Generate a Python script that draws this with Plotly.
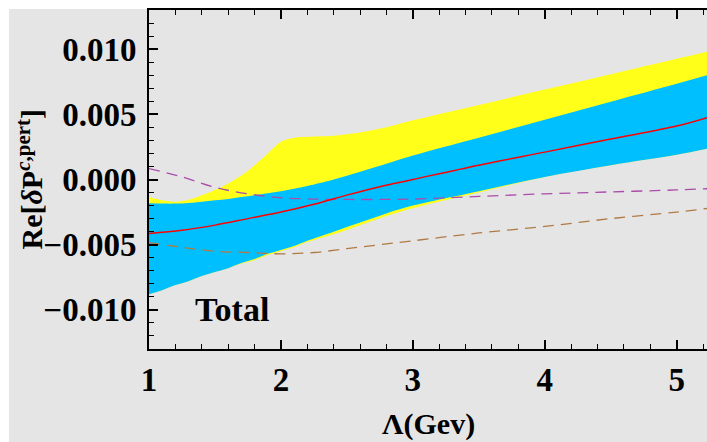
import plotly.graph_objects as go

# ---- data ----
x_band = [1.0, 1.1, 1.2, 1.3, 1.4, 1.5, 1.6, 1.7, 1.8, 1.9, 2.0, 2.1, 2.2, 2.4, 2.6, 2.8, 3.0, 3.5, 4.0, 4.5, 5.0, 5.25]
yellow_upper = [-0.00135, -0.0016, -0.0017, -0.00155, -0.0012, -0.0008, -0.0003, 0.0003, 0.0011, 0.0020, 0.0029, 0.0032, 0.00328, 0.00336, 0.0036, 0.0040, 0.00454, 0.00572, 0.0069, 0.00808, 0.00926, 0.00985]
yellow_lower = [-0.0088, -0.0085, -0.0081, -0.0078, -0.0074, -0.0071, -0.0068, -0.00645, -0.0062, -0.0058, -0.0055, -0.0052, -0.0048, -0.0042, -0.0035, -0.0028, -0.0022, -0.0010, 0.0002, 0.0011, 0.0019, 0.0024]
blue_upper = [-0.00183, -0.00185, -0.00185, -0.0018, -0.0017, -0.0016, -0.0015, -0.00135, -0.0012, -0.00105, -0.0009, -0.0007, -0.0005, 0.0, 0.0006, 0.0012, 0.00184, 0.00321, 0.00459, 0.00596, 0.00734, 0.00805]
blue_lower = [-0.0088, -0.0085, -0.0081, -0.0078, -0.0074, -0.0071, -0.0068, -0.0064, -0.0061, -0.0057, -0.0054, -0.0051, -0.0047, -0.0040, -0.0033, -0.0026, -0.0020, -0.0009, 0.0002, 0.0011, 0.0019, 0.0024]

x_line = [1.0, 1.25, 1.5, 1.75, 2.0, 2.25, 2.5, 2.75, 3.0, 3.5, 4.0, 4.5, 5.0, 5.25]
central = [-0.00415, -0.0039, -0.0035, -0.0030, -0.0025, -0.0019, -0.0012, -0.00055, 0.0000, 0.0011, 0.0021, 0.0031, 0.0041, 0.0048]
purple_dashed = [0.00083, 0.0002, -0.0006, -0.0011, -0.0014, -0.0015, -0.00153, -0.00153, -0.0015, -0.0013, -0.0011, -0.00095, -0.0008, -0.0007]
brown_dashed = [-0.00484, -0.0052, -0.0055, -0.0056, -0.0057, -0.0056, -0.0053, -0.0050, -0.0047, -0.0041, -0.0036, -0.0030, -0.0025, -0.0022]

y_ticks = [-0.010, -0.005, 0.000, 0.005, 0.010]
x_ticks = [1, 2, 3, 4, 5]

FONT = "Liberation Serif"
GRAY = "#e5e5e5"

fig = go.Figure()

def band(xs, lo, hi, color):
    fig.add_trace(go.Scatter(x=xs, y=lo, mode="lines", line=dict(width=0, color=color, shape="spline"),
                             showlegend=False, hoverinfo="skip"))
    fig.add_trace(go.Scatter(x=xs, y=hi, mode="lines", line=dict(width=0, color=color, shape="spline"),
                             fill="tonexty", fillcolor=color, showlegend=False, hoverinfo="skip"))

band(x_band, yellow_lower, yellow_upper, "#ffff1a")
band(x_band, blue_lower, blue_upper, "#00bfff")

fig.add_trace(go.Scatter(x=x_line, y=purple_dashed, mode="lines",
                         line=dict(color="#aa4caa", width=1.3, dash="11px,7px", shape="spline"), showlegend=False))
fig.add_trace(go.Scatter(x=x_line, y=brown_dashed, mode="lines",
                         line=dict(color="#b07a45", width=1.3, dash="11px,7px", shape="spline"), showlegend=False))
fig.add_trace(go.Scatter(x=x_line, y=central, mode="lines",
                         line=dict(color="#ff0000", width=1.5, shape="spline"), showlegend=False))

tickfont = dict(family=FONT, size=33, color="black", weight="bold")

fig.update_layout(
    width=707, height=442,
    margin=dict(l=149, r=0, t=10, b=93),
    paper_bgcolor="white", plot_bgcolor=GRAY,
    font=dict(family=FONT, size=30, color="black"),
    shapes=[dict(type="rect", xref="paper", yref="paper", x0=-0.251, x1=1.05, y0=-0.275, y1=1.003,
                 fillcolor=GRAY, line=dict(width=0), layer="below")],
    xaxis=dict(range=[1, 5.23], tickvals=x_ticks, ticktext=[str(v) for v in x_ticks],
               showgrid=False, zeroline=False, showline=True, linecolor="black", linewidth=2,
               mirror="ticks", ticks="inside", ticklen=9, tickwidth=1.5, tickcolor="black",
               minor=dict(dtick=0.2, tick0=1, ticks="inside", ticklen=5, tickwidth=1.2, tickcolor="black"),
               tickfont=tickfont, ticklabelstandoff=0),
    yaxis=dict(range=[-0.013, 0.013], tickvals=y_ticks, tickformat=".3f",
               showgrid=False, zeroline=False, showline=True, linecolor="black", linewidth=2,
               ticks="inside", ticklen=9, tickwidth=1.5, tickcolor="black",
               minor=dict(dtick=0.001, tick0=0, ticks="inside", ticklen=5, tickwidth=1.2, tickcolor="black"),
               tickfont=tickfont, ticklabelstandoff=4),
    annotations=[
        dict(text="<b>Total</b>", x=1.33, y=-0.0100, xref="x", yref="y", xanchor="left", yanchor="middle",
             showarrow=False, font=dict(family=FONT, size=34, color="black")),
        dict(text="<b>Λ(Gev)</b>", x=0.5, y=-0.22, xref="paper", yref="paper", xanchor="center", yanchor="middle",
             showarrow=False, font=dict(family=FONT, size=30, color="black")),
        dict(text="<b>Re[<i>δ</i>P<sup><i>c</i>,pert</sup>]</b>", x=-0.215, y=0.5, xref="paper", yref="paper",
             xanchor="center", yanchor="middle", textangle=-90,
             showarrow=False, font=dict(family=FONT, size=30, color="black")),
    ],
)

fig.write_html("out.html")
